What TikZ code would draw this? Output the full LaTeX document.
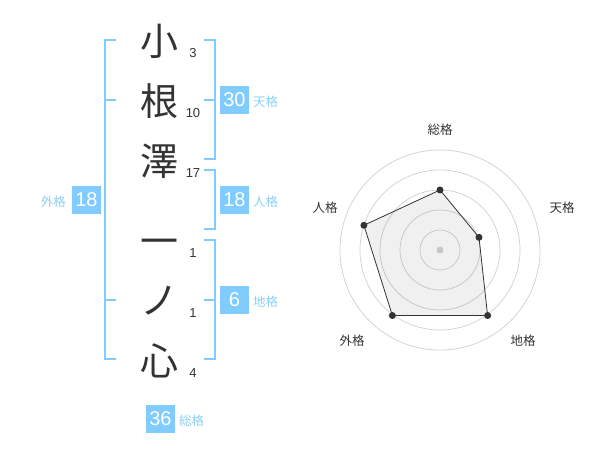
\documentclass[tikz,border=0pt]{standalone}
\usepackage{fontspec}
\setmainfont{Liberation Sans}
\newfontfamily\cjk{Noto Sans CJK JP}
\usetikzlibrary{calc}
\definecolor{blu}{HTML}{80CCFF}
\definecolor{lblu}{HTML}{8CCFF5}
\definecolor{ink}{HTML}{333333}
\definecolor{ringc}{HTML}{D0D0D0}
\definecolor{dotc}{HTML}{C8C8C8}
\begin{document}
\begin{tikzpicture}[x=1pt,y=-1pt,
  kanji/.style={font=\cjk\fontsize{38}{38}\selectfont, text=ink, inner sep=0pt, anchor=center},
  strk/.style={font=\fontsize{13}{13}\selectfont, text=ink, inner sep=0pt},
  valbox/.style={fill=blu, text=white, minimum width=29pt, minimum height=28pt, inner sep=0pt, font=\fontsize{20}{20}\selectfont},
  lbl/.style={font=\cjk\fontsize{12.5}{12.5}\selectfont, text=lblu, inner sep=0pt},
  brk/.style={draw=blu, line width=2pt},
  ringline/.style={draw=ringc, line width=0.7pt},
  rlbl/.style={font=\cjk\fontsize{12.5}{12.5}\selectfont, text=ink, inner sep=0pt},
  vdot/.style={fill=ink}]
\useasboundingbox (0,0) rectangle (600,470);
% kanji
\node[kanji] (k1) at (159,41) {小};
\node[kanji] (k2) at (159,101) {根};
\node[kanji] (k3) at (159,161) {澤};
\node[kanji] (k4) at (159,247) {一};
\node[kanji] (k5) at (159,301) {ノ};
\node[kanji] (k6) at (159,361) {心};
% stroke counts
\node[strk] (n1) at (193,53) {3};
\node[strk] (n2) at (193,113) {10};
\node[strk] (n3) at (193,173) {17};
\node[strk] (n4) at (193,253) {1};
\node[strk] (n5) at (193,313) {1};
\node[strk] (n6) at (193,373) {4};
% brackets
\draw[brk] (116,40) -- (105,40) -- (105,359) -- (116,359);
\draw[brk] (105,100) -- (116,100);
\draw[brk] (105,300) -- (116,300);
\draw[brk] (204,40) -- (215,40) -- (215,159) -- (204,159);
\draw[brk] (204,100) -- (215,100);
\draw[brk] (204,170) -- (215,170) -- (215,229) -- (204,229);
\draw[brk] (204,240) -- (215,240) -- (215,359) -- (204,359);
\draw[brk] (204,300) -- (215,300);
% value boxes
\node[valbox] (ten) at (234.5,100) {30};
\node[lbl, anchor=west] (tenl) at (253,102) {天格};
\node[valbox] (jin) at (234.5,200) {18};
\node[lbl, anchor=west] (jinl) at (253,202) {人格};
\node[valbox] (chi) at (234.5,300) {6};
\node[lbl, anchor=west] (chil) at (253,302) {地格};
\node[valbox] (gai) at (86.5,200) {18};
\node[lbl, anchor=east] (gail) at (66,202) {外格};
\node[valbox] (sou) at (160.5,419) {36};
\node[lbl, anchor=west] (soul) at (179,421) {総格};
% radar
\coordinate (c) at (440,250);
\foreach \r in {20,40,60,80,100} \draw[ringline] (c) circle (\r pt);
\path (c) ++(-90:60) coordinate (pS);
\path (c) ++(-18:41) coordinate (pT);
\path (c) ++(54:81) coordinate (pE);
\path (c) ++(126:81) coordinate (pG);
\path (c) ++(198:80) coordinate (pJ);
\fill[black, fill opacity=0.06] (pS) -- (pT) -- (pE) -- (pG) -- (pJ) -- cycle;
\draw[ink, line width=0.8pt] (pS) -- (pT) -- (pE) -- (pG) -- (pJ) -- cycle;
\foreach \p in {pS,pT,pE,pG,pJ} \fill[vdot] (\p) circle (3.5pt);
\fill[dotc] (c) circle (3.5pt);
\node[rlbl] (rS) at (440,130) {総格};
\node[rlbl] (rT) at (562,208) {天格};
\node[rlbl] (rE) at (523,341) {地格};
\node[rlbl] (rG) at (352,341) {外格};
\node[rlbl] (rJ) at (325,208) {人格};
\end{tikzpicture}
\end{document}
